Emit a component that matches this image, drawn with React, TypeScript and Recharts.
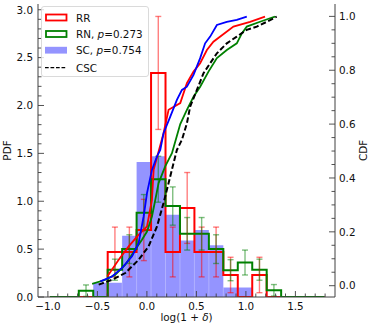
import React from 'react';
import {
  ComposedChart,
  Area,
  Line,
  Scatter,
  ErrorBar,
  ReferenceLine,
  XAxis,
  YAxis,
} from 'recharts';

// histogram bin edges (shared by all samples)
const binEdges = [
  -0.98, -0.834, -0.688, -0.542, -0.396, -0.25, -0.104, 0.042, 0.188, 0.334,
  0.48, 0.626, 0.772, 0.918, 1.064, 1.21, 1.356, 1.502, 1.648, 1.794,
];

// PDF heights per bin
const rrPdf = [0, 0, 0, 0, 0.47, 0.47, 0.7, 2.34, 0.47, 0.93, 0.47, 0.47, 0.23, 0, 0.23, 0, 0, 0, 0];
const rrErr = [0, 0, 0, 0, 0.26, 0.26, 0.32, 0.59, 0.26, 0.37, 0.26, 0.26, 0.185, 0, 0.185, 0, 0, 0, 0];
const rnPdf = [0, 0, 0.066, 0, 0.285, 0.5, 0.88, 1.23, 0.95, 0.66, 0.66, 0.5, 0.28, 0.36, 0.285, 0.07, 0, 0, 0];
const rnErr = [0, 0, 0.06, 0, 0.11, 0.15, 0.19, 0.24, 0.2, 0.17, 0.17, 0.15, 0.11, 0.13, 0.11, 0.06, 0, 0, 0];
const scPdf = [0, 0, 0, 0.15, 0.15, 0.64, 1.41, 1.47, 0.86, 0.59, 0.7, 0.54, 0.1, 0.1, 0, 0, 0, 0, 0];

// cumulative distributions
const rrCdfX = [-0.4, -0.285, -0.184, -0.084, 0.001, 0.051, 0.068, 0.168, 0.219, 0.337, 0.404, 0.471, 0.538, 0.606, 0.672, 0.874, 1.042, 1.193];
const rrCdfY = [0.034, 0.096, 0.146, 0.189, 0.22, 0.319, 0.43, 0.566, 0.653, 0.678, 0.752, 0.795, 0.826, 0.875, 0.906, 0.962, 0.98, 0.999];
const rnCdfX = [-0.553, -0.419, -0.319, -0.218, -0.117, -0.05, 0.001, 0.051, 0.085, 0.118, 0.185, 0.253, 0.337, 0.404, 0.471, 0.538, 0.622, 0.707, 0.807, 0.908, 0.959, 1.009, 1.143, 1.244, 1.294];
const rnCdfY = [0.007, 0.022, 0.041, 0.078, 0.134, 0.171, 0.201, 0.257, 0.319, 0.381, 0.443, 0.492, 0.6, 0.653, 0.702, 0.739, 0.795, 0.845, 0.875, 0.9, 0.937, 0.962, 0.98, 0.993, 0.999];
const scCdfX = [-0.47, -0.352, -0.251, -0.15, -0.084, -0.033, 0.001, 0.051, 0.102, 0.135, 0.168, 0.236, 0.303, 0.354, 0.404, 0.471, 0.538, 0.588, 0.639, 0.707, 0.807, 0.908, 1.009];
const scCdfY = [0.016, 0.034, 0.066, 0.109, 0.158, 0.257, 0.344, 0.43, 0.48, 0.504, 0.566, 0.628, 0.69, 0.727, 0.739, 0.783, 0.845, 0.9, 0.925, 0.968, 0.98, 0.987, 0.999];
const cscCdfX = [-0.487, -0.352, -0.218, -0.084, 0.017, 0.102, 0.168, 0.219, 0.269, 0.303, 0.354, 0.404, 0.437, 0.505, 0.572, 0.639, 0.707, 0.807, 0.908, 1.009, 1.11, 1.211, 1.311];
const cscCdfY = [0.004, 0.022, 0.047, 0.096, 0.146, 0.22, 0.307, 0.381, 0.455, 0.504, 0.542, 0.603, 0.665, 0.727, 0.789, 0.826, 0.863, 0.9, 0.925, 0.95, 0.962, 0.98, 0.999];

// ticks
const xMajor = [-1, -0.5, 0, 0.5, 1, 1.5];
const xTicks = [-1, -0.9, -0.8, -0.7, -0.6, -0.5, -0.4, -0.3, -0.2, -0.1, 0, 0.1, 0.2, 0.3, 0.4, 0.5, 0.6, 0.7, 0.8, 0.9, 1, 1.1, 1.2, 1.3, 1.4, 1.5, 1.6, 1.7, 1.8];
const pdfMajor = [0, 0.5, 1, 1.5, 2, 2.5, 3];
const pdfTicks = [0, 0.1, 0.2, 0.3, 0.4, 0.5, 0.6, 0.7, 0.8, 0.9, 1, 1.1, 1.2, 1.3, 1.4, 1.5, 1.6, 1.7, 1.8, 1.9, 2, 2.1, 2.2, 2.3, 2.4, 2.5, 2.6, 2.7, 2.8, 2.9, 3];
const cdfMajor = [0, 0.2, 0.4, 0.6, 0.8, 1];
const cdfTicks = [0, 0.05, 0.1, 0.15, 0.2, 0.25, 0.3, 0.35, 0.4, 0.45, 0.5, 0.55, 0.6, 0.65, 0.7, 0.75, 0.8, 0.85, 0.9, 0.95, 1];

const FONT = '"DejaVu Sans", sans-serif';
const FS = 10.4;
const AXIS = '#404040';
const TXT = '#111';

const stepLine = (h: number[]) => {
  const pts = [{ x: binEdges[0], y: 0 }];
  h.forEach((v, i) => pts.push({ x: binEdges[i], y: v }));
  pts.push({ x: binEdges[h.length], y: 0 });
  return pts;
};

const stepArea = (h: number[]) => {
  const idx = h.map((v, i) => (v > 0 ? i : -1)).filter((i) => i >= 0);
  const a = idx[0];
  const b = idx[idx.length - 1];
  const pts = [];
  for (let i = a; i <= b; i++) pts.push({ x: binEdges[i], y: h[i] });
  pts.push({ x: binEdges[b + 1], y: h[b] });
  return pts;
};

// thin gaps between adjacent filled bars
const barSeams = (h: number[]) =>
  h
    .map((v, i) => (i > 0 && v > 0 && h[i - 1] > 0 ? { x: binEdges[i], top: Math.min(v, h[i - 1]) } : null))
    .filter((s) => s !== null) as { x: number; top: number }[];

const errPoints = (h: number[], e: number[]) =>
  h
    .map((v, i) => ({ x: (binEdges[i] + binEdges[i + 1]) / 2, y: v, err: e[i] }))
    .filter((p) => p.y > 0);

const cdf = (xs: number[], ys: number[]) => xs.map((x, i) => ({ x, y: ys[i] }));

const isIn = (arr: number[], v: number) => arr.some((t) => Math.abs(t - v) < 1e-6);
const fmt = (v: number, d: number) => (v < 0 ? '\u2212' : '') + Math.abs(v).toFixed(d);

const BottomTick = (p: any) => {
  const { x, y, payload } = p;
  const major = isIn(xMajor, payload.value);
  return (
    <g>
      <line x1={x} x2={x} y1={y} y2={y - (major ? 6 : 3.5)} stroke={AXIS} strokeWidth={0.9} />
      {major && (
        <text x={x} y={y + 12.5} textAnchor="middle" fontSize={FS} fontFamily={FONT} fill={TXT}>
          {fmt(payload.value, 1)}
        </text>
      )}
    </g>
  );
};

const TopTick = (p: any) => {
  const { x, y, payload } = p;
  const major = isIn(xMajor, payload.value);
  return <line x1={x} x2={x} y1={y} y2={y + (major ? 6 : 3.5)} stroke={AXIS} strokeWidth={0.9} />;
};

const LeftTick = (p: any) => {
  const { x, y, payload } = p;
  const major = isIn(pdfMajor, payload.value);
  return (
    <g>
      <line x1={x} x2={x + (major ? 6 : 3.5)} y1={y} y2={y} stroke={AXIS} strokeWidth={0.9} />
      {major && (
        <text x={x - 5} y={y + 3.8} textAnchor="end" fontSize={FS} fontFamily={FONT} fill={TXT}>
          {fmt(payload.value, 1)}
        </text>
      )}
    </g>
  );
};

const RightTick = (p: any) => {
  const { x, y, payload } = p;
  const major = isIn(cdfMajor, payload.value);
  return (
    <g>
      <line x1={x} x2={x - (major ? 6 : 3.5)} y1={y} y2={y} stroke={AXIS} strokeWidth={0.9} />
      {major && (
        <text x={x + 4} y={y + 3.8} textAnchor="start" fontSize={FS} fontFamily={FONT} fill={TXT}>
          {fmt(payload.value, 1)}
        </text>
      )}
    </g>
  );
};

const NoDot = () => <g />;

const Overlay = () => (
  <svg width={374} height={328} style={{ position: 'absolute', left: 0, top: 0, pointerEvents: 'none' }}>
    <text transform="translate(11,150.5) rotate(-90)" textAnchor="middle" fontSize={FS} fontFamily={FONT} fill={TXT}>
      PDF
    </text>
    <text transform="translate(367,150.5) rotate(-90)" textAnchor="middle" fontSize={FS} fontFamily={FONT} fill={TXT}>
      CDF
    </text>
    <text x={186.5} y={320.5} textAnchor="middle" fontSize={FS} fontFamily={FONT} fill={TXT}>
      log(1 + <tspan fontStyle="italic">δ</tspan>)
    </text>
    <rect x={41.5} y={6.5} width={107} height={70} rx={2.5} fill="#fff" fillOpacity={0.8} stroke="#d0d0d0" strokeWidth={0.8} />
    <rect x={46} y={14.5} width={20.5} height={6} fill="none" stroke="#ff0000" strokeWidth={1.8} />
    <rect x={46} y={31} width={20.5} height={6} fill="none" stroke="#008000" strokeWidth={1.8} />
    <rect x={45} y={46.8} width={22} height={6.8} fill="#0000ff" fillOpacity={0.42} />
    <line x1={45} x2={67} y1={67.7} y2={67.7} stroke="#000" strokeWidth={1.3} strokeDasharray="3.7 1.8" />
    <text x={76} y={21.6} fontSize={FS} fontFamily={FONT} fill={TXT}>RR</text>
    <text x={76} y={37.6} fontSize={FS} fontFamily={FONT} fill={TXT}>
      RN, <tspan fontStyle="italic">p</tspan>=0.273
    </text>
    <text x={76} y={54.3} fontSize={FS} fontFamily={FONT} fill={TXT}>
      SC, <tspan fontStyle="italic">p</tspan>=0.754
    </text>
    <text x={76} y={71.7} fontSize={FS} fontFamily={FONT} fill={TXT}>CSC</text>
  </svg>
);

const App: React.FC = () => {
  return (
    <div style={{ position: 'absolute', left: 0, top: 0, width: 374, height: 328, background: '#fff' }}>
      <ComposedChart width={374} height={328} margin={{ top: 4, right: 0, bottom: 0, left: 0 }}>
        <XAxis
          dataKey="x"
          type="number"
          domain={[-1.1, 1.9]}
          ticks={xTicks}
          interval={0}
          tick={BottomTick}
          tickLine={false}
          tickSize={0}
          tickMargin={0}
          height={31}
          axisLine={{ stroke: AXIS, strokeWidth: 1 }}
          allowDataOverflow
        />
        <XAxis
          xAxisId="top"
          orientation="top"
          dataKey="x"
          type="number"
          domain={[-1.1, 1.9]}
          ticks={xTicks}
          interval={0}
          tick={TopTick}
          tickLine={false}
          tickSize={0}
          tickMargin={0}
          height={0}
          axisLine={{ stroke: AXIS, strokeWidth: 1 }}
          allowDataOverflow
        />
        <YAxis
          yAxisId="pdf"
          dataKey="y"
          type="number"
          domain={[0, 3.06]}
          ticks={pdfTicks}
          interval={0}
          tick={LeftTick}
          tickLine={false}
          tickSize={0}
          tickMargin={0}
          width={38}
          axisLine={{ stroke: AXIS, strokeWidth: 1 }}
          allowDataOverflow
        />
        <YAxis
          yAxisId="cdf"
          orientation="right"
          dataKey="y"
          type="number"
          domain={[-0.042, 1.046]}
          ticks={cdfTicks}
          interval={0}
          tick={RightTick}
          tickLine={false}
          tickSize={0}
          tickMargin={0}
          width={39}
          axisLine={{ stroke: AXIS, strokeWidth: 1 }}
          allowDataOverflow
        />

        <Area
          yAxisId="pdf"
          data={stepArea(scPdf)}
          dataKey="y"
          type="stepAfter"
          stroke="none"
          fill="#0000ff"
          fillOpacity={0.42}
          isAnimationActive={false}
        />
        {barSeams(scPdf).map((s) => (
          <ReferenceLine
            key={s.x}
            yAxisId="pdf"
            segment={[{ x: s.x, y: 0 }, { x: s.x, y: s.top }]}
            stroke="#ffffff"
            strokeOpacity={0.35}
            strokeWidth={0.8}
          />
        ))}
        <Line
          yAxisId="pdf"
          data={stepLine(rrPdf)}
          dataKey="y"
          type="stepAfter"
          stroke="#ff0000"
          strokeWidth={2}
          dot={false}
          isAnimationActive={false}
        />
        <Line
          yAxisId="pdf"
          data={stepLine(rnPdf)}
          dataKey="y"
          type="stepAfter"
          stroke="#008000"
          strokeWidth={2}
          dot={false}
          isAnimationActive={false}
        />
        <Scatter yAxisId="pdf" data={errPoints(rrPdf, rrErr)} dataKey="y" shape={NoDot} isAnimationActive={false}>
          <ErrorBar dataKey="err" direction="y" width={3} stroke="#ff0000" strokeOpacity={0.5} strokeWidth={1.4} isAnimationActive={false} />
        </Scatter>
        <Scatter yAxisId="pdf" data={errPoints(rnPdf, rnErr)} dataKey="y" shape={NoDot} isAnimationActive={false}>
          <ErrorBar dataKey="err" direction="y" width={3} stroke="#008000" strokeOpacity={0.5} strokeWidth={1.4} isAnimationActive={false} />
        </Scatter>

        <Line yAxisId="cdf" data={cdf(rrCdfX, rrCdfY)} dataKey="y" type="linear" stroke="#ff0000" strokeWidth={1.8} dot={false} isAnimationActive={false} />
        <Line yAxisId="cdf" data={cdf(rnCdfX, rnCdfY)} dataKey="y" type="linear" stroke="#008000" strokeWidth={1.8} dot={false} isAnimationActive={false} />
        <Line yAxisId="cdf" data={cdf(scCdfX, scCdfY)} dataKey="y" type="linear" stroke="#0000ff" strokeWidth={1.8} dot={false} isAnimationActive={false} />
        <Line
          yAxisId="cdf"
          data={cdf(cscCdfX, cscCdfY)}
          dataKey="y"
          type="linear"
          stroke="#000"
          strokeWidth={2}
          strokeDasharray="5.5 2.6"
          dot={false}
          isAnimationActive={false}
        />
      </ComposedChart>
      <Overlay />
    </div>
  );
};

export default App;
